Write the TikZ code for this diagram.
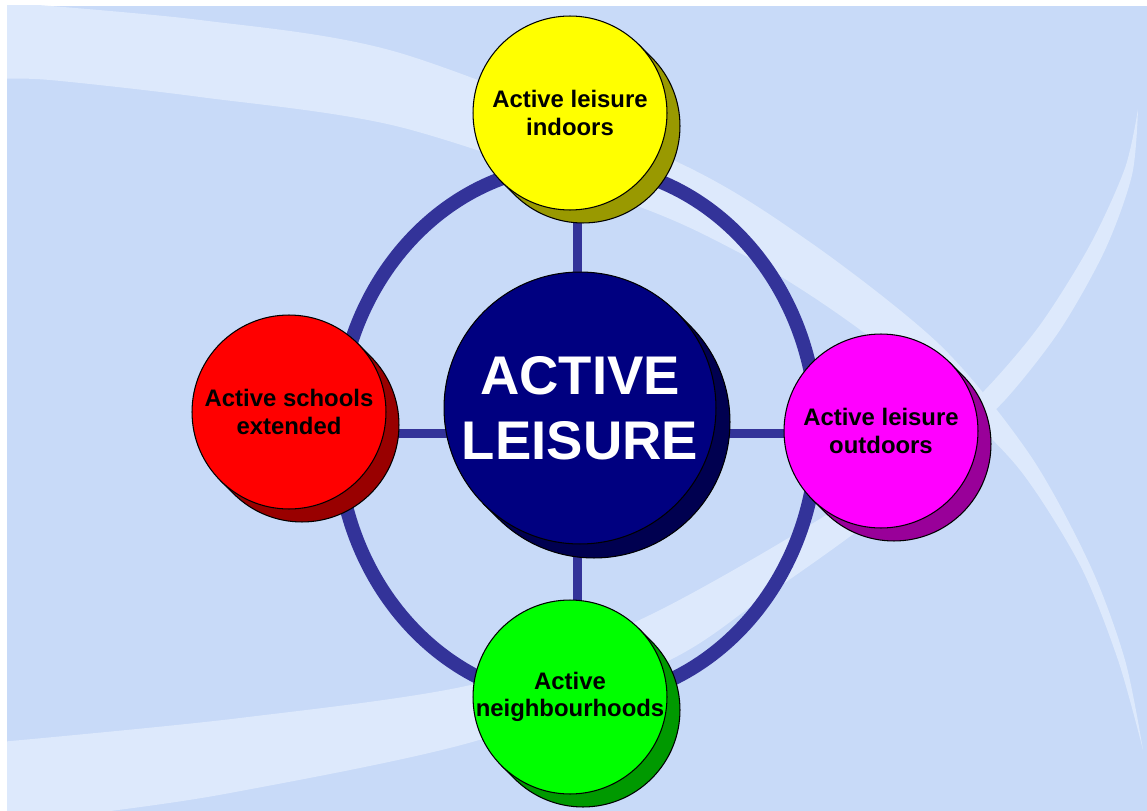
\documentclass[tikz,border=0pt]{standalone}
\usepackage{fontspec}
\setmainfont{Liberation Sans}
\usepackage{tikz}
\usetikzlibrary{shapes}
\definecolor{sky}{HTML}{C8DAF8}
\definecolor{swoosh}{HTML}{DDE9FC}
\definecolor{rimblue}{HTML}{333399}
\definecolor{navy}{HTML}{000080}
\definecolor{navydark}{HTML}{000050}
\definecolor{ballyellow}{HTML}{FFFF00}
\definecolor{ballred}{HTML}{FF0000}
\definecolor{ballmagenta}{HTML}{FF00FF}
\definecolor{ballgreen}{HTML}{00FF00}
\definecolor{yellowdark}{HTML}{999900}
\definecolor{reddark}{HTML}{990000}
\definecolor{magentadark}{HTML}{990099}
\definecolor{greendark}{HTML}{009900}
\pgfdeclarelayer{lines}
\pgfdeclarelayer{shade}
\pgfsetlayers{lines,shade,main}

\begin{document}
\begin{tikzpicture}[x=0.02cm, y=-0.02cm,
    ball/.style={circle, draw=black, line width=0.6pt, fill=#1, minimum size=3.88cm,
      inner sep=-8pt, outer sep=0pt, align=center,
      font=\fontsize{13.6}{15.7}\selectfont\bfseries},
    core/.style={circle, draw=black, line width=0.6pt, fill=navy, minimum size=5.44cm,
      inner sep=0pt, outer sep=0pt, align=center, text=white,
      font=\fontsize{31}{37}\selectfont\bfseries},
    rim/.style={draw=rimblue, line width=0.28cm},
    spoke/.style={draw=rimblue, line width=0.18cm}]
  \useasboundingbox (0,0) rectangle (1147,811);
  \begin{pgfonlayer}{lines}
    \fill[white] (0,0) rectangle (1147,811);
    \fill[sky] (7,6) rectangle (1147,811);
    \begin{scope}
      \clip (7,6) rectangle (1147,811);
      % swoosh from the top left
      \fill[swoosh] plot[smooth] coordinates {(0,2) (200,20) (400,53) (673,160) (807,240)
          (940,345) (1030,455) (1090,565) (1125,660) (1143,750)}
        -- plot[smooth] coordinates {(1143,750) (1118,660) (1080,565) (1020,470) (950,400)
          (870,337) (807,293) (740,253) (640,207) (400,127) (200,97) (50,80) (0,79)} -- cycle;
      % swoosh from the bottom left
      \fill[swoosh] plot[smooth] coordinates {(0,742) (240,718) (479,683) (650,615) (823,517)
          (930,440) (985,390) (1040,325) (1090,245) (1125,168) (1138,109)}
        -- plot[smooth] coordinates {(1138,109) (1132,175) (1105,250) (1060,330) (1005,400)
          (950,450) (865,525) (760,600) (670,660) (479,740) (230,793) (80,815) (0,825)} -- cycle;
    \end{scope}
    \coordinate (hub) at (577,433);
    \draw[rim] (hub) ellipse [x radius=240, y radius=268];
  \end{pgfonlayer}

  \node[core] (core) at (580,408) {ACTIVE\\LEISURE};
  \node[ball=ballyellow] (indoor) at (570,113) {Active leisure\\indoors};
  \node[ball=ballred] (schools) at (289,412) {Active schools\\extended};
  \node[ball=ballmagenta] (outdoor) at (881,431) {Active leisure\\outdoors};
  \node[ball=ballgreen] (hood) at (570,697) {Active\\neighbourhoods};

  \begin{pgfonlayer}{lines}
    \draw[spoke] (hub |- indoor) -- (hub |- hood);
    \draw[spoke] (hub -| schools) -- (hub -| outdoor);
  \end{pgfonlayer}
  \begin{pgfonlayer}{shade}
    \foreach \n/\r/\d/\c in {core/2.72/14/navydark, indoor/1.94/13/yellowdark,
        schools/1.94/13/reddark, outdoor/1.94/13/magentadark, hood/1.94/13/greendark}
      \filldraw[fill=\c, draw=black, line width=0.6pt] (\n.45) -- ++(\d,\d)
        arc[start angle=45, end angle=-135, radius=\r cm] -- (\n.225) -- cycle;
  \end{pgfonlayer}
\end{tikzpicture}
\end{document}
